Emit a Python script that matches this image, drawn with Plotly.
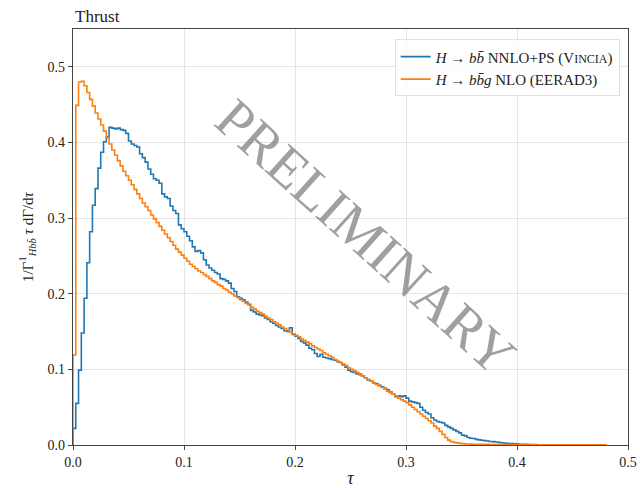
import plotly.graph_objects as go

bin_width = 0.0025

vincia = [
    0.022, 0.055, 0.099, 0.148, 0.194, 0.241, 0.282, 0.317, 0.339, 0.366,
    0.387, 0.401, 0.407, 0.420, 0.419, 0.418, 0.419, 0.417, 0.416, 0.412,
    0.402, 0.398, 0.396, 0.394, 0.385, 0.380, 0.374, 0.365, 0.358, 0.352,
    0.350, 0.346, 0.332, 0.328, 0.326, 0.316, 0.310, 0.306, 0.291, 0.286,
    0.282, 0.276, 0.270, 0.262, 0.256, 0.257, 0.254, 0.245, 0.238, 0.234,
    0.231, 0.228, 0.226, 0.220, 0.219, 0.217, 0.214, 0.207, 0.203, 0.196,
    0.194, 0.192, 0.189, 0.186, 0.178, 0.176, 0.173, 0.172, 0.171, 0.168,
    0.166, 0.163, 0.161, 0.158, 0.156, 0.154, 0.151, 0.150, 0.155, 0.146,
    0.144, 0.141, 0.137, 0.135, 0.132, 0.128, 0.126, 0.121, 0.117, 0.120,
    0.116, 0.115, 0.114, 0.113, 0.112, 0.110, 0.109, 0.106, 0.103, 0.099,
    0.097, 0.096, 0.094, 0.093, 0.091, 0.089, 0.086, 0.085, 0.082, 0.081,
    0.079, 0.077, 0.075, 0.073, 0.070, 0.067, 0.064, 0.065, 0.064, 0.065,
    0.062, 0.058, 0.057, 0.056, 0.055, 0.050, 0.046, 0.043, 0.041, 0.036,
    0.033, 0.031, 0.030, 0.029, 0.026, 0.024, 0.022, 0.020, 0.018, 0.016,
    0.013, 0.012, 0.010, 0.009, 0.0085, 0.0075, 0.0068, 0.0062, 0.0058, 0.0052,
    0.0046, 0.0044, 0.0040, 0.0035, 0.0030, 0.0027, 0.0024, 0.0020, 0.0018, 0.0015,
    0.0012, 0.0010, 0.0009, 0.0008, 0.0007, 0.0006, 0.0005, 0.0004, 0.0004, 0.0003,
    0.0003, 0.0003, 0.0003, 0.0002, 0.0002, 0.0002, 0.0002, 0.0002, 0.0002, 0.0001,
    0.0001, 0.0001, 0.0001, 0.0001, 0.0001, 0.0001, 0.0001, 0.0001, 0.0001, 0.0001,
    0.0001, 0.0001,
]

eerad3 = [
    0.119, 0.449, 0.480, 0.481, 0.475, 0.466, 0.457, 0.448, 0.439, 0.431,
    0.423, 0.415, 0.406, 0.398, 0.390, 0.383, 0.376, 0.369, 0.362, 0.356,
    0.350, 0.344, 0.338, 0.332, 0.326, 0.320, 0.315, 0.310, 0.304, 0.299,
    0.294, 0.289, 0.284, 0.279, 0.274, 0.269, 0.264, 0.259, 0.255, 0.251,
    0.247, 0.243, 0.239, 0.236, 0.233, 0.230, 0.228, 0.225, 0.223, 0.220,
    0.217, 0.215, 0.212, 0.210, 0.207, 0.205, 0.202, 0.200, 0.197, 0.195,
    0.192, 0.190, 0.187, 0.185, 0.182, 0.180, 0.177, 0.175, 0.173, 0.170,
    0.168, 0.166, 0.163, 0.161, 0.159, 0.156, 0.154, 0.152, 0.149, 0.147,
    0.145, 0.143, 0.140, 0.138, 0.136, 0.134, 0.131, 0.129, 0.127, 0.125,
    0.122, 0.120, 0.118, 0.116, 0.113, 0.111, 0.109, 0.107, 0.105, 0.102,
    0.100, 0.098, 0.096, 0.094, 0.091, 0.089, 0.087, 0.085, 0.082, 0.080,
    0.078, 0.076, 0.074, 0.071, 0.069, 0.067, 0.065, 0.062, 0.060, 0.058,
    0.056, 0.053, 0.050, 0.047, 0.044, 0.041, 0.038, 0.035, 0.032, 0.029,
    0.025, 0.022, 0.018, 0.014, 0.010, 0.0065, 0.0045, 0.0035, 0.0028, 0.0022,
    0.0018, 0.0015, 0.0013, 0.0011, 0.0010, 0.0010, 0.0009, 0.0009, 0.0008, 0.0008,
    0.0007, 0.0007, 0.0006, 0.0006, 0.0006, 0.0005, 0.0005, 0.0005, 0.0005, 0.0004,
    0.0004, 0.0004, 0.0004, 0.0003, 0.0003, 0.0003, 0.0003, 0.0003, 0.0002, 0.0002,
    0.0002, 0.0002, 0.0002, 0.0002, 0.0002, 0.0001, 0.0001, 0.0001, 0.0001, 0.0001,
    0.0001, 0.0001, 0.0001, 0.0001, 0.0001, 0.0001, 0.0001, 0.0001, 0.0001, 0.0001,
    0.0001, 0.0001,
]

x_ticks = [0.0, 0.1, 0.2, 0.3, 0.4, 0.5]
x_tick_labels = ["0.0", "0.1", "0.2", "0.3", "0.4", "0.5"]
y_ticks = [0.0, 0.1, 0.2, 0.3, 0.4, 0.5]
y_tick_labels = ["0.0", "0.1", "0.2", "0.3", "0.4", "0.5"]

label_vincia = ("<i>H</i> → <i>b</i><i>b̄</i> NNLO+PS (V<span style='font-size:12px'>INCIA</span>)")
label_eerad3 = "<i>H</i> → <i>b</i><i>b̄</i><i>g</i> NLO (EERAD3)"

FONT = "Liberation Serif"


def step_xy(values):
    xs = [0.0]
    ys = [0.0]
    for i, v in enumerate(values):
        xs.append(i * bin_width)
        ys.append(v)
    xs.append(len(values) * bin_width)
    ys.append(0.0)
    return xs, ys


fig = go.Figure()
for vals, name, color in [(vincia, label_vincia, "#1f77b4"),
                          (eerad3, label_eerad3, "#ff7f0e")]:
    xs, ys = step_xy(vals)
    fig.add_trace(go.Scatter(x=xs, y=ys, mode="lines", name=name,
                             line=dict(color=color, width=1.6, shape="hv")))

fig.add_annotation(text="PRELIMINARY", x=0.264, y=0.275, xref="x", yref="y",
                   showarrow=False, textangle=42,
                   font=dict(family=FONT, size=56, color="rgba(120,120,120,0.7)"))

fig.add_annotation(text="Thrust", x=0, y=1.0, xref="paper", yref="paper",
                   xanchor="left", yanchor="bottom", yshift=1, showarrow=False,
                   font=dict(family=FONT, size=17, color="#222"))

axis_common = dict(showgrid=True, gridcolor="#e5e5e5", gridwidth=1,
                   showline=True, linecolor="#444", linewidth=1.3, mirror=True,
                   ticks="outside", ticklen=4, tickcolor="#444", zeroline=False,
                   automargin=False,
                   tickfont=dict(family=FONT, size=14, color="#222"))

fig.update_layout(
    width=640, height=488,
    margin=dict(l=73, r=12, t=29, b=43),
    paper_bgcolor="white", plot_bgcolor="white",
    font=dict(family=FONT, color="#222"),
    showlegend=True,
    legend=dict(x=0.985, y=0.975, xanchor="right", yanchor="top",
                bgcolor="rgba(255,255,255,0.8)", bordercolor="#e0e0e0", borderwidth=1,
                font=dict(family=FONT, size=15, color="#222"),
                itemwidth=30, tracegroupgap=2),
    xaxis=dict(range=[0, 0.5], tickvals=x_ticks, ticktext=x_tick_labels,
               title=dict(text="<i>τ</i>", font=dict(family=FONT, size=18), standoff=4),
               **axis_common),
    yaxis=dict(range=[0, 0.55], tickvals=y_ticks, ticktext=y_tick_labels,
               title=dict(text="1/Γ<sup>1</sup><sub><i>Hbb̄</i></sub> <i>τ</i> dΓ/d<i>τ</i>",
                          font=dict(family=FONT, size=15), standoff=10),
               **axis_common),
)

fig.write_html("out.html")
